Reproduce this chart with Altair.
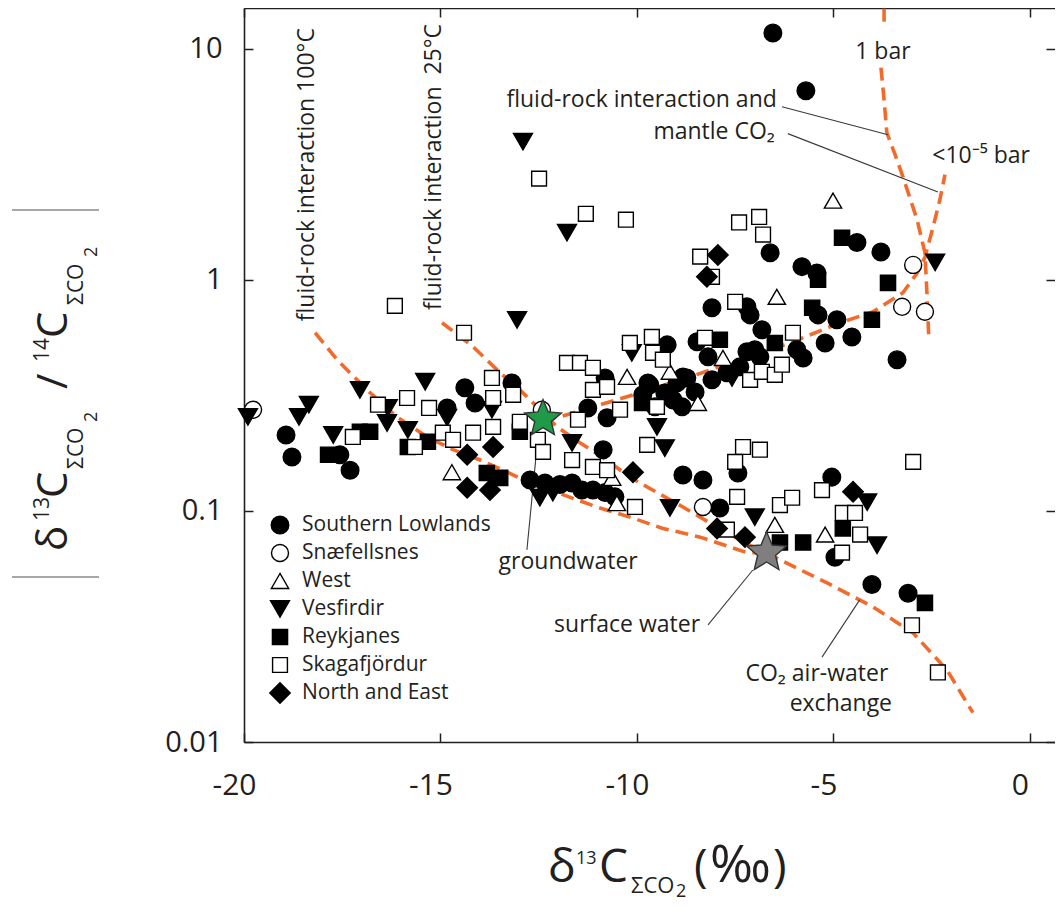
import altair as alt
import pandas as pd

FONT = "Open Sans"
INK = "#231f20"
ORANGE = "#f26b2b"

# ---------------- categories / styles ----------------
groups = ["Southern Lowlands", "Snæfellsnes", "West", "Vesfirdir", "Reykjanes", "Skagafjördur", "North and East"]
group_shapes = ["circle", "circle", "triangle-up", "triangle-down", "square", "square", "diamond"]
group_fills = ["#000000", "#ffffff", "#ffffff", "#000000", "#000000", "#ffffff", "#000000"]
group_sizes = [310, 290, 300, 360, 230, 220, 420]

x_ticks = [-20, -15, -10, -5, 0]
y_ticks = [0.01, 0.1, 1, 10]

# ---------------- data (d13C permil, |d13C/14C| ratio) ----------------
southern_x = [-6.54, -5.70, -6.61, -5.80, -5.42, -4.40, -3.79, -8.09, -7.20, -7.12, -5.39, -4.91, -6.82, -4.53,
              -5.21, -3.38, -5.93, -5.77, -8.47, -9.23, -8.19, -7.20, -7.00, -8.73, -8.09, -7.71, -7.38, -9.67,
              -8.98, -8.85, -8.52, -9.29, -9.08, -8.83, -9.72, -9.85, -9.54, -10.81, -11.25, -10.76, -13.18,
              -14.12, -14.38, -14.83, -18.93, -18.78, -17.56, -17.30, -10.86, -8.83, -8.32, -7.43, -7.89, -5.04,
              -4.96, -4.02, -3.10, -12.72, -12.34, -11.96, -11.65, -11.40, -11.12, -10.81, -10.56, -6.87]
southern_y = [11.7, 6.58, 1.31, 1.14, 1.07, 1.45, 1.32, 0.757, 0.764, 0.705, 0.705, 0.671, 0.608, 0.566,
              0.533, 0.451, 0.498, 0.459, 0.539, 0.523, 0.464, 0.488, 0.498, 0.376, 0.369, 0.396, 0.420, 0.351,
              0.358, 0.282, 0.327, 0.324, 0.302, 0.380, 0.358, 0.318, 0.282, 0.376, 0.279, 0.253, 0.358,
              0.293, 0.341, 0.279, 0.213, 0.171, 0.175, 0.150, 0.184, 0.143, 0.136, 0.146, 0.103, 0.140,
              0.063, 0.048, 0.044, 0.136, 0.132, 0.130, 0.132, 0.123, 0.123, 0.120, 0.115, 0.464]

snaefell_x = [-19.77, -2.97, -3.25, -2.67, -8.32, -12.42]
snaefell_y = [0.274, 1.16, 0.764, 0.727, 0.104, 0.274]

west_x = [-5.01, -6.44, -7.81, -9.16, -8.45, -10.25, -14.71, -10.51, -10.63, -6.49, -5.21]
west_y = [2.20, 0.844, 0.459, 0.400, 0.293, 0.380, 0.147, 0.108, 0.139, 0.087, 0.079]

vesfirdir_x = [-19.90, -18.35, -18.60, -17.73, -17.05, -16.34, -16.36, -15.39, -14.83, -15.83, -13.69, -12.90,
               -11.78, -13.05, -10.13, -11.65, -9.49, -9.29, -9.16, -7.00, -7.58, -4.14, -3.89, -2.41, -12.47,
               -12.14]
vesfirdir_y = [0.255, 0.288, 0.255, 0.213, 0.334, 0.279, 0.240, 0.362, 0.253, 0.224, 0.274, 3.96,
               1.60, 0.671, 0.483, 0.197, 0.231, 0.187, 0.103, 0.094, 0.376, 0.109, 0.071, 1.19, 0.114,
               0.120]

reykjanes_x = [-17.86, -17.05, -16.79, -15.83, -15.32, -13.82, -13.48, -12.98, -9.87, -7.89, -6.49, -5.54,
               -4.78, -5.39, -3.61, -4.02, -6.36, -5.77, -4.76, -2.67]
reykjanes_y = [0.175, 0.220, 0.220, 0.189, 0.199, 0.146, 0.139, 0.220, 0.293, 0.550, 0.533, 0.757,
               1.52, 1.00, 0.970, 0.671, 0.073, 0.073, 0.084, 0.040]

skaga_x = [-12.49, -11.30, -10.28, -16.16, -14.40, -16.59, -15.85, -17.23, -15.65, -15.29, -14.94, -14.68,
           -14.17, -13.69, -13.66, -13.15, -13.66, -12.98, -12.52, -12.39, -11.78, -11.45, -11.12, -11.12,
           -10.76, -11.50, -11.65, -11.12, -10.76, -10.43, -10.18, -9.62, -9.59, -9.34, -9.49, -10.05, -9.74,
           -8.39, -8.09, -7.40, -6.89, -6.79, -7.50, -8.27, -6.03, -7.12, -6.82, -6.49, -6.31, -7.30, -6.87,
           -7.50, -7.45, -6.36, -6.05, -5.29, -4.76, -4.45, -4.32, -4.78, -7.71, -2.97, -3.00, -2.34]
skaga_y = [2.74, 1.93, 1.82, 0.771, 0.590, 0.288, 0.308, 0.209, 0.189, 0.279, 0.218, 0.203,
           0.218, 0.376, 0.308, 0.318, 0.231, 0.243, 0.203, 0.180, 0.437, 0.437, 0.416, 0.334,
           0.344, 0.248, 0.166, 0.155, 0.150, 0.274, 0.533, 0.566, 0.483, 0.451, 0.282, 0.104, 0.193,
           1.26, 1.03, 1.77, 1.87, 1.57, 0.803, 0.561, 0.590, 0.369, 0.400, 0.388, 0.429, 0.189, 0.184,
           0.163, 0.115, 0.106, 0.114, 0.123, 0.098, 0.098, 0.079, 0.066, 0.083, 0.163, 0.032, 0.020]

northeast_x = [-7.94, -8.22, -14.32, -14.32, -13.74, -13.66, -10.10, -7.96, -7.25, -4.50]
northeast_y = [1.28, 1.03, 0.175, 0.126, 0.123, 0.189, 0.147, 0.084, 0.077, 0.121]

# end members
groundwater_xy = (-12.39, 0.250)
surface_xy = (-6.70, 0.066)

# model curves
curve100_x = [-18.19, -17.63, -16.87, -16.11, -15.34, -14.68, -13.99, -13.41, -12.80, -12.03, -11.02, -10.18,
              -9.34, -8.39, -7.20, -6.70]
curve100_y = [0.590, 0.451, 0.334, 0.255, 0.209, 0.184, 0.166, 0.150, 0.134, 0.120, 0.104, 0.094,
              0.084, 0.077, 0.066, 0.066]
curve25_x = [-14.96, -14.17, -13.48, -12.90, -12.39, -12.03, -11.45, -10.86, -10.25, -9.92, -8.83, -7.96,
             -7.12, -6.70]
curve25_y = [0.652, 0.513, 0.396, 0.324, 0.266, 0.231, 0.197, 0.170, 0.143, 0.132, 0.104, 0.085,
             0.071, 0.066]
airwater_x = [-6.70, -6.36, -5.16, -3.99, -2.97, -2.11, -1.45]
airwater_y = [0.066, 0.0614, 0.0488, 0.0384, 0.0296, 0.0205, 0.0134]
lowp_x = [-12.39, -11.96, -10.94, -9.92, -8.65, -7.38, -6.10, -4.83, -3.99, -3.23, -2.87, -2.67, -2.46,
          -2.29, -2.16]
lowp_y = [0.250, 0.255, 0.288, 0.324, 0.380, 0.451, 0.533, 0.652, 0.727, 0.879, 1.07, 1.25, 1.70,
          2.22, 2.85]
onebar_top_x = [-3.71, -3.71]
onebar_top_y = [14.9, 12.6]
onebar_x = [-3.79, -3.71, -3.64, -3.43, -3.23, -2.87, -2.67, -2.62, -2.57]
onebar_y = [8.28, 6.01, 4.33, 3.48, 2.79, 1.82, 1.31, 0.879, 0.550]

# annotation leader lines (x, y, x2, y2)
leader_x = [-12.52, -8.19, -5.29, -6.31, -6.16]
leader_y = [0.209, 0.0321, 0.0233, 5.61, 4.29]
leader_x2 = [-12.80, -7.05, -4.33, -3.61, -2.34]
leader_y2 = [0.0678, 0.0555, 0.0412, 4.24, 2.40]

# ---------------- scales ----------------
XSC = alt.Scale(domain=[-20, 0.64], nice=False, zero=False)
YSC = alt.Scale(type="log", domain=[0.01, 15], nice=False)

W, H = 811, 734
LEFT, TOP = 236, 0
OX, OY = 8 + LEFT, 8 + TOP  # page position of plot origin


def frame(name, xs, ys):
    return pd.DataFrame({"d13C": xs, "ratio": ys, "group": name})


pts = pd.concat([
    frame(groups[0], southern_x, southern_y),
    frame(groups[1], snaefell_x, snaefell_y),
    frame(groups[2], west_x, west_y),
    frame(groups[3], vesfirdir_x, vesfirdir_y),
    frame(groups[4], reykjanes_x, reykjanes_y),
    frame(groups[5], skaga_x, skaga_y),
    frame(groups[6], northeast_x, northeast_y),
], ignore_index=True)

x_main = alt.Axis(orient="bottom", values=x_ticks, labelExpr="datum.value + ''", ticks=False, tickSize=0,
                  domain=True, domainColor=INK, domainWidth=1.6, labelFont=FONT, labelFontSize=30,
                  labelColor=INK, labelPadding=28, labelOffset=-10, labelFlush=False, labelOverlap=False,
                  title=None, grid=False)
y_main = alt.Axis(orient="left", values=y_ticks, format="~g", ticks=False, tickSize=0, domain=True,
                  domainColor=INK, domainWidth=1.6, labelFont=FONT, labelFontSize=29, labelColor=INK,
                  labelPadding=22, labelFlush=False, labelOverlap=False, title=None, grid=False)


def tick_axis(orient, values):
    return alt.Axis(orient=orient, values=values, labels=False, domain=False, ticks=True, tickSize=9,
                    offset=-9, tickColor=INK, tickWidth=1.5, title=None, grid=False)


x_top_frame = alt.Axis(orient="top", values=x_ticks, labels=False, ticks=False, domain=True,
                       domainColor=INK, domainWidth=1.6, title=None, grid=False)

points = alt.Chart(pts).mark_point(filled=True, stroke="black", strokeWidth=1.4, opacity=1).encode(
    x=alt.X("d13C:Q", scale=XSC, axis=x_main),
    y=alt.Y("ratio:Q", scale=YSC, axis=y_main),
    shape=alt.Shape("group:N", scale=alt.Scale(domain=groups, range=group_shapes), legend=None),
    fill=alt.Fill("group:N", scale=alt.Scale(domain=groups, range=group_fills), legend=None),
    size=alt.Size("group:N", scale=alt.Scale(type="ordinal", domain=groups, range=group_sizes), legend=None),
)


def curve(xs, ys, xaxis=None, yaxis=None):
    df = pd.DataFrame({"d13C": xs, "ratio": ys, "i": list(range(len(xs)))})
    return alt.Chart(df).mark_line(color=ORANGE, strokeWidth=3.6, strokeDash=[13, 7], clip=True).encode(
        x=alt.X("d13C:Q", scale=XSC, axis=xaxis),
        y=alt.Y("ratio:Q", scale=YSC, axis=yaxis),
        order="i:Q",
    )


c100 = curve(curve100_x, curve100_y, tick_axis("bottom", x_ticks), tick_axis("left", y_ticks))
c25 = curve(curve25_x, curve25_y, tick_axis("top", x_ticks), tick_axis("right", y_ticks))
caw = curve(airwater_x, airwater_y, x_top_frame, None)
clow = curve(lowp_x, lowp_y)
c1top = curve(onebar_top_x, onebar_top_y)
c1 = curve(onebar_x, onebar_y)

leaders = alt.Chart(pd.DataFrame({"x": leader_x, "y": leader_y, "x2": leader_x2, "y2": leader_y2})).mark_rule(
    color="#3a3a3a", strokeWidth=1.1).encode(
    x=alt.X("x:Q", scale=XSC, axis=None), y=alt.Y("y:Q", scale=YSC, axis=None),
    x2="x2:Q", y2="y2:Q")

STAR = ("M0,-1L0.265,-0.364L0.951,-0.309L0.428,0.139L0.588,0.809L0,0.45L-0.588,0.809"
        "L-0.428,0.139L-0.951,-0.309L-0.265,-0.364Z")


def star(xy, fill, size):
    df = pd.DataFrame({"d13C": [xy[0]], "ratio": [xy[1]]})
    return alt.Chart(df).mark_point(shape=STAR, filled=True, fill=fill, stroke="#333333", strokeWidth=1.4,
                                    size=size, opacity=1).encode(
        x=alt.X("d13C:Q", scale=XSC, axis=None), y=alt.Y("ratio:Q", scale=YSC, axis=None))


gstar = star(groundwater_xy, "#1f9a48", 1500)
sstar = star(surface_xy, "#7f7f80", 1750)


def note(text, x, y, align="center", angle=0, size=23):
    df = pd.DataFrame({"d13C": [x], "ratio": [y], "t": [text]})
    return alt.Chart(df).mark_text(font=FONT, fontSize=size, color=INK, align=align, baseline="middle",
                                   angle=angle).encode(
        x=alt.X("d13C:Q", scale=XSC, axis=None), y=alt.Y("ratio:Q", scale=YSC, axis=None), text="t:N")


notes = [
    note("groundwater", -11.75, 0.0601),
    note("surface water", -10.25, 0.0321),
    note("CO\u2082 air-water", -5.42, 0.0197),
    note("exchange", -4.81, 0.0146),
    note("fluid-rock interaction and", -6.44, 6.01, align="right"),
    note("mantle CO\u2082", -6.49, 4.37, align="right"),
    note("1 bar", -3.74, 9.71),
    note("<10\u207b\u2075 bar", -1.24, 3.44),
    note("fluid-rock interaction 100°C", -18.40, 2.85, angle=270),
    note("fluid-rock interaction\u00a0 25°C", -15.16, 3.08, angle=270),
]


def ptxt(text, px, py, size, angle=0, baseline="alphabetic"):
    return alt.Chart(pd.DataFrame({"t": [text]})).mark_text(
        text=text, font=FONT, fontSize=size, color=INK, align="left", baseline=baseline,
        angle=angle).encode(x=alt.value(px - OX), y=alt.value(py - OY))


def hbar(px1, px2, py):
    return alt.Chart(pd.DataFrame({"t": [0]})).mark_rule(color="#8a8a8a", strokeWidth=1.5).encode(
        x=alt.value(px1 - OX), x2=alt.value(px2 - OX), y=alt.value(py - OY))


# legend (drawn by hand, inside the plot's lower-left corner)
def legend_entry(i):
    sym = alt.Chart(pd.DataFrame({"t": [groups[i]]})).mark_point(
        shape=group_shapes[i], filled=True, fill=group_fills[i], stroke="black", strokeWidth=1.4,
        size=group_sizes[i], opacity=1).encode(x=alt.value(280 - OX), y=alt.value(525 + 28 * i - OY))
    lab = ptxt(groups[i], 302, 525 + 28 * i, 21, baseline="middle")
    return [sym, lab]


legend_layers = [layer for i in range(len(groups)) for layer in legend_entry(i)]

# y-axis title pieces (rotated, reading upward)
ytitle = [
    ptxt("δ", 67, 551, 42, 270),
    ptxt("13", 49, 521, 21, 270),
    ptxt("C", 67, 498, 42, 270),
    ptxt("ΣCO", 83, 469, 21, 270),
    ptxt("2", 97, 422, 18, 270),
    ptxt("/", 67, 389, 42, 270),
    ptxt("14", 49, 362, 21, 270),
    ptxt("C", 67, 338, 42, 270),
    ptxt("ΣCO", 83, 305, 21, 270),
    ptxt("2", 97, 257, 18, 270),
    hbar(12, 99, 210),
    hbar(12, 99, 577),
]

# x-axis title pieces
xtitle = [
    ptxt("δ", 548, 882, 46),
    ptxt("13", 576, 864, 18),
    ptxt("C", 599, 882, 46),
    ptxt("ΣCO", 631, 893, 22),
    ptxt("2", 676, 897, 18),
    ptxt("(", 694, 882, 46),
    ptxt("‰", 710, 882, 52),
    ptxt(")", 773, 882, 46),
]

chart = alt.layer(
    c100, c25, caw, clow, c1top, c1, leaders, points, gstar, sstar, *notes, *legend_layers, *ytitle, *xtitle
).resolve_axis(x="independent", y="independent").properties(
    width=W, height=H,
    padding={"left": LEFT, "top": TOP, "right": 0, "bottom": 161},
    autosize=alt.AutoSizeParams(type="none"),
).configure_view(stroke=None)

chart.save("out.html", embed_options={"renderer": "svg", "actions": False})
